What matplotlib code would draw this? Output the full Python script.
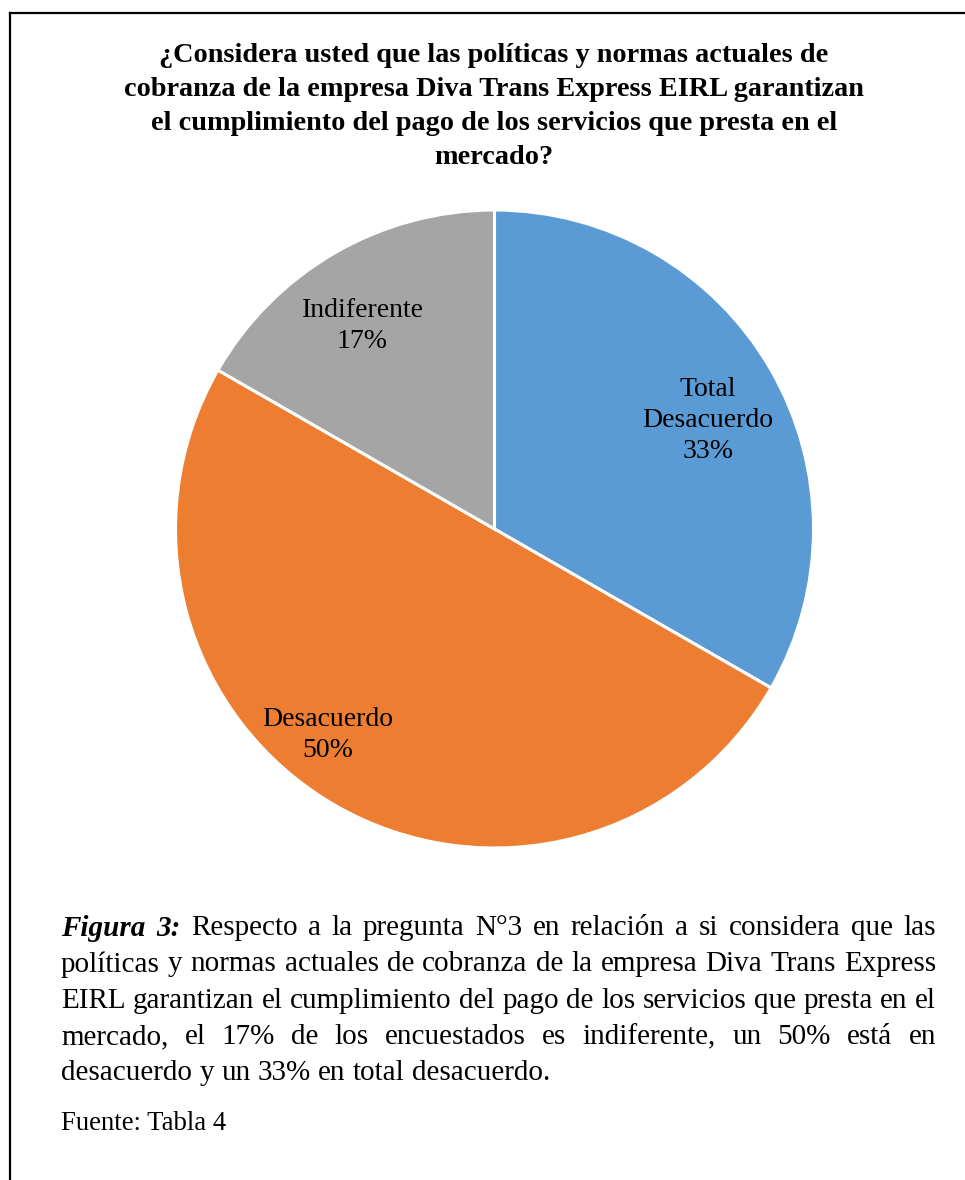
import matplotlib
matplotlib.use("Agg")
import matplotlib.pyplot as plt
import numpy as np
from matplotlib.lines import Line2D

W, H = 965, 1180
SERIF = "Liberation Serif"

TITLE_LINES = [
    "¿Considera usted que las políticas y normas actuales de",
    "cobranza de la empresa Diva Trans Express EIRL garantizan",
    "el cumplimiento del pago de los servicios que presta en el",
    "mercado?",
]

CATEGORIES = ["Total\nDesacuerdo", "Desacuerdo", "Indiferente"]
PERCENTS = [33.3, 50.0, 16.7]
COLORS = ["#5B9BD5", "#ED7D31", "#A5A5A5"]

CAPTION_LINES = [
    "Figura 3: Respecto a la pregunta N°3 en relación a si considera que las",
    "políticas y normas actuales de cobranza de la empresa Diva Trans Express",
    "EIRL garantizan el cumplimiento del pago de los servicios que presta en el",
    "mercado, el 17% de los encuestados es indiferente, un 50% está en",
    "desacuerdo y un 33% en total desacuerdo.",
]
SOURCE = "Fuente: Tabla 4"

# label placement inside each wedge: (radius fraction, angle in degrees)
LABEL_POLAR = [(0.75, 27), (0.83, 231), (0.76, 123)]


def px(x, y):
    return x / W, 1 - y / H


fig = plt.figure(figsize=(W / 100, H / 100), dpi=100)
fig.patch.set_facecolor("white")

# frame (top + left lines)
fig.add_artist(Line2D([10 / W, 1], [1 - 13 / H, 1 - 13 / H], color="black", lw=1.6))
fig.add_artist(Line2D([10 / W, 10 / W], [1 - 13 / H, 0], color="black", lw=1.6))

# title
for i, line in enumerate(TITLE_LINES):
    x, y = px(494, 55 + i * 34.3)
    fig.text(x, y, line, ha="center", va="center", fontsize=20.3,
             fontweight="bold", family=SERIF)

# pie
cx, cy, r = 494.5, 529, 319
ax = fig.add_axes([(cx - r) / W, (H - cy - r) / H, 2 * r / W, 2 * r / H])
wedges, _ = ax.pie(PERCENTS, colors=COLORS, startangle=90, counterclock=False,
                   radius=1, wedgeprops=dict(edgecolor="white", linewidth=2.2))
ax.set_xlim(-1, 1)
ax.set_ylim(-1, 1)
ax.set_aspect("equal")
ax.axis("off")

for cat, pct, (rr, ang) in zip(CATEGORIES, PERCENTS, LABEL_POLAR):
    a = np.deg2rad(ang)
    ax.text(rr * np.cos(a), rr * np.sin(a), f"{cat}\n{pct:.0f}%",
            ha="center", va="center", fontsize=20, family=SERIF,
            linespacing=1.32)

# caption, justified
renderer = fig.canvas.get_renderer()
cap_size = 21
left, right = 61, 936


def word_width(word, **kw):
    t = fig.text(0, 0, word, fontsize=cap_size, family=SERIF, **kw)
    w = t.get_window_extent(renderer).width
    t.remove()
    return w


space_w = word_width("a a") - word_width("aa")

for i, line in enumerate(CAPTION_LINES):
    words = line.split(" ")
    styles = []
    for j, w in enumerate(words):
        if i == 0 and j < 2:
            styles.append(dict(fontweight="bold", fontstyle="italic"))
        else:
            styles.append({})
    widths = [word_width(w, **s) for w, s in zip(words, styles)]
    last = i == len(CAPTION_LINES) - 1
    if last:
        gap = space_w
    else:
        gap = (right - left - sum(widths)) / (len(words) - 1)
    x = left
    y = 928 + i * 36.3
    for w, s, wd in zip(words, styles, widths):
        fig.text(x / W, 1 - y / H, w, ha="left", va="center", fontsize=cap_size,
                 family=SERIF, **s)
        x += wd + gap

fig.text(61 / W, 1 - 1123 / H, SOURCE, ha="left", va="center", fontsize=19.3,
         family=SERIF)

fig.savefig("out.png", dpi=100)
